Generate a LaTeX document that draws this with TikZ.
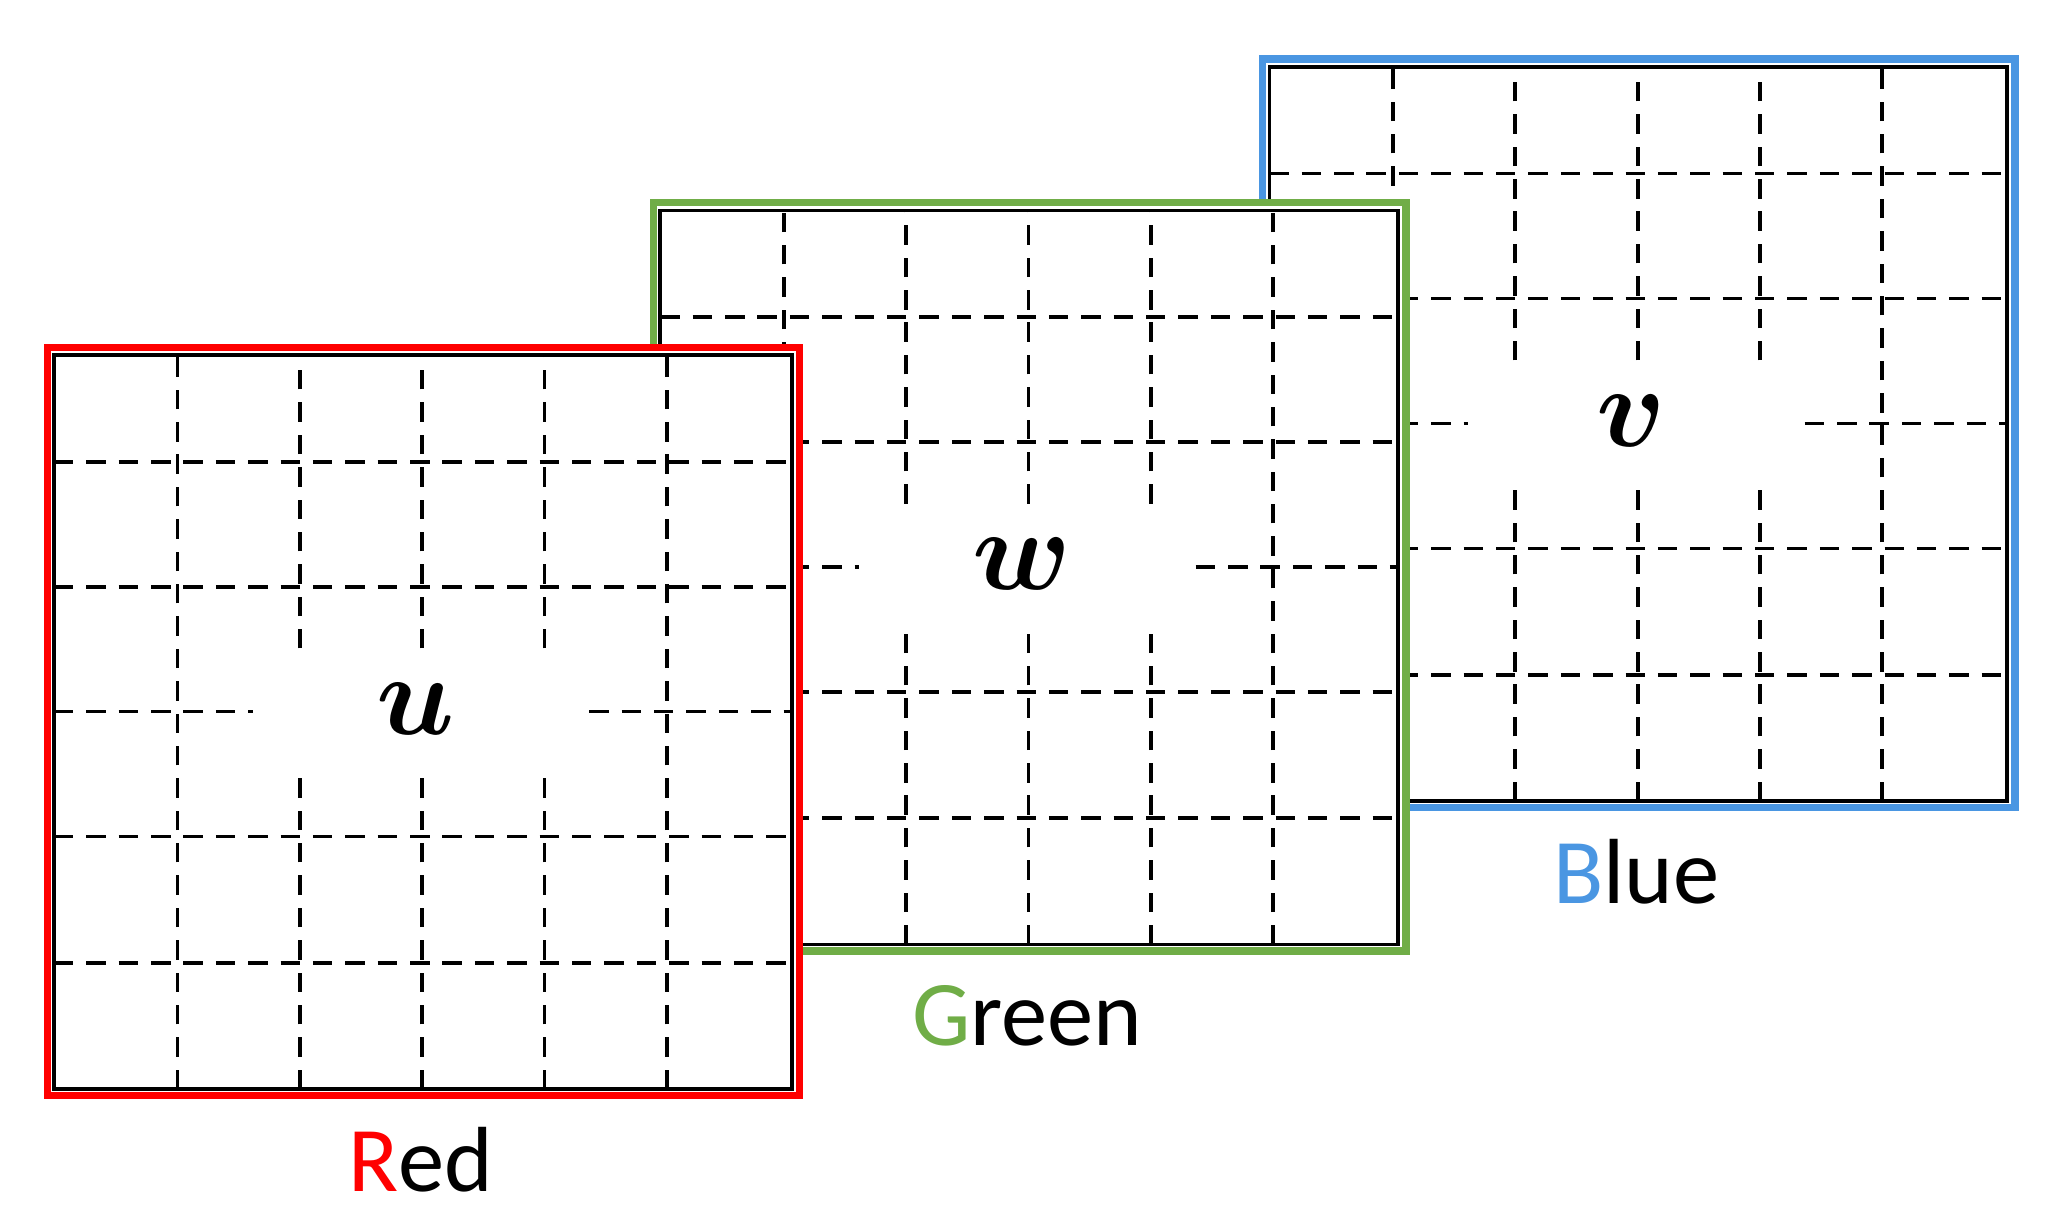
\documentclass[tikz,border=0pt]{standalone}
\usepackage{amsmath,bm}
\usepackage{fontspec}
\newfontfamily\labfont{Carlito}
\definecolor{cred}{RGB}{255,0,0}
\definecolor{cgreen}{RGB}{112,173,71}
\definecolor{cblue}{RGB}{74,150,226}
\tikzset{
  gridline/.style={black,line width=0.8pt,dash pattern=on 4.2pt off 2.8pt},
  outerframe/.style={line width=1.6pt,fill=white},
  innerframe/.style={black,line width=0.8pt},
  lab/.style={font=\labfont\fontsize{20}{22}\selectfont},
  letter/.style={font=\fontsize{26}{28}\selectfont}
}
\newcommand\panelgrid[5]{%
\begin{scope}[shift={#1}]
  \draw[outerframe,draw=#2] (36,103) rectangle (608,672);
  \draw[innerframe] (41,108) rectangle (602,666);
  \foreach \x in {135,507} \draw[gridline] (\x,108) -- (\x,666);
  \foreach \x in {228,321,414} {\draw[gridline] (\x,108) -- (\x,349); \draw[gridline] (\x,443) -- (\x,666);}
  \foreach \y in {204,300,490,585} \draw[gridline] (41,\y) -- (602,\y);
  \draw[gridline] (41,395) -- (192,395);
  \draw[gridline] (448,395) -- (602,395);
  \node[letter] (#5c) at (316,397) {$\bm{#3}$};
  \node[lab] (#5l) at (320,54) {#4};
\end{scope}}
\begin{document}
\begin{tikzpicture}[x=0.01cm,y=0.01cm]
\useasboundingbox (0,0) rectangle (1560,936);
\panelgrid{(924,219)}{cblue}{v}{\textcolor{cblue}{B}lue}{b}
\panelgrid{(461,110)}{cgreen}{w}{\textcolor{cgreen}{G}reen}{g}
\panelgrid{(0,0)}{cred}{u}{\textcolor{cred}{R}ed}{r}
\end{tikzpicture}
\end{document}
